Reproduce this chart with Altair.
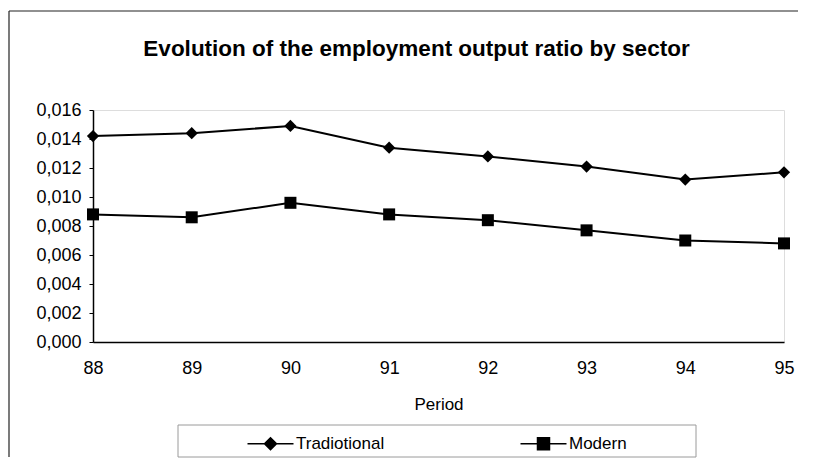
import altair as alt
import pandas as pd

# ---- data ----
periods = [88, 89, 90, 91, 92, 93, 94, 95]
traditional = [0.0142, 0.0144, 0.0149, 0.0134, 0.0128, 0.0121, 0.0112, 0.0117]
modern = [0.0088, 0.0086, 0.0096, 0.0088, 0.0084, 0.0077, 0.0070, 0.0068]
series_names = ["Tradiotional", "Modern"]
y_ticks = [0.000, 0.002, 0.004, 0.006, 0.008, 0.010, 0.012, 0.014, 0.016]
title_text = "Evolution of the employment output ratio by sector"
x_title = "Period"

rows = []
for name, vals in zip(series_names, [traditional, modern]):
    for p, v in zip(periods, vals):
        rows.append({"period": p, "value": v, "series": name})
df = pd.DataFrame(rows)

FONT = "Arial, Liberation Sans, sans-serif"
W, H = 691, 232

x_enc = alt.X(
    "period:Q",
    scale=alt.Scale(domain=[88, 95], nice=False, zero=False),
    axis=alt.Axis(
        values=periods, format="d", title=x_title, grid=False, ticks=False, tickSize=0,
        labelPadding=17, labelFontSize=18, labelFont=FONT, labelColor="black",
        labelFlush=False, titleFontSize=17, titleFont=FONT, titleFontWeight="normal",
        titleColor="black", titleY=67, titleBaseline="alphabetic",
        domainColor="black", domainWidth=1.5,
    ),
)
y_enc = alt.Y(
    "value:Q",
    scale=alt.Scale(domain=[0, 0.016], nice=False, zero=True),
    axis=alt.Axis(
        values=y_ticks, labelExpr="replace(format(datum.value, '.3f'), '.', ',')",
        grid=False, title=None, tickSize=4, tickColor="black", labelPadding=8,
        labelFontSize=18, labelFont=FONT, labelColor="black",
        domainColor="black", domainWidth=1.5,
    ),
)

base = alt.Chart(df)

lines = base.mark_line(color="black", strokeWidth=2).encode(
    x=x_enc, y=y_enc, detail="series:N"
)

points = base.mark_point(filled=True, opacity=1, color="black").encode(
    x=x_enc, y=y_enc,
    shape=alt.Shape("series:N", scale=alt.Scale(domain=series_names, range=["diamond", "square"]), legend=None),
    size=alt.Size("series:N", scale=alt.Scale(domain=series_names, range=[150, 144]), legend=None),
)

# legend glyphs: a short line through a (stroke-filled) marker
diamond_glyph = ("M-4.6,0H4.6"
                 "M-1.2,0L0,-1.2L1.2,0L0,1.2Z"
                 "M-0.9,0L0,-0.9L0.9,0L0,0.9Z"
                 "M-0.6,0L0,-0.6L0.6,0L0,0.6Z"
                 "M-0.3,0L0,-0.3L0.3,0L0,0.3Z")
square_glyph = ("M-4.6,0H4.6"
                "M-1.2,-1.2H1.2V1.2H-1.2Z"
                "M-0.9,-0.9H0.9V0.9H-0.9Z"
                "M-0.6,-0.6H0.6V0.6H-0.6Z"
                "M-0.3,-0.3H0.3V0.3H-0.3Z")

legend_props = dict(
    orient="none", legendX=169, legendY=325, direction="horizontal", title=None,
    labelFontSize=17, labelFont=FONT, labelColor="black", labelOffset=17,
    symbolSize=100, symbolFillColor="black", symbolStrokeColor="black",
    symbolStrokeWidth=1.5, symbolOpacity=1, columnPadding=132, padding=0,
)

legend_layer = base.transform_filter("false").mark_point(
    filled=False, opacity=1, strokeWidth=1.5
).encode(
    x=x_enc, y=y_enc,
    shape=alt.Shape(
        "series:N",
        scale=alt.Scale(domain=series_names, range=[diamond_glyph, square_glyph]),
        legend=alt.Legend(**legend_props),
    ),
    stroke=alt.Stroke(
        "series:N",
        scale=alt.Scale(domain=series_names, range=["black", "black"]),
        legend=alt.Legend(**legend_props),
    ),
)

one = alt.Data(values=[{"k": 1}])
legend_box = alt.Chart(one).mark_rect(fill="white", stroke="#9a9a9a", strokeWidth=1).encode(
    x=alt.value(85), x2=alt.value(603), y=alt.value(315), y2=alt.value(347)
)
frame_top = alt.Chart(one).mark_rule(color="#222222", strokeWidth=1.2).encode(
    x=alt.value(-84), x2=alt.value(705), y=alt.value(-99), y2=alt.value(-99)
)
frame_left = alt.Chart(one).mark_rule(color="#222222", strokeWidth=1.2).encode(
    x=alt.value(-84), x2=alt.value(-84), y=alt.value(-99), y2=alt.value(347)
)

chart = alt.layer(
    frame_top, frame_left, legend_box, lines, points, legend_layer
).resolve_scale(
    shape="independent", size="independent", stroke="independent"
).properties(
    width=W, height=H,
    padding={"left": 0, "top": 2, "right": 0, "bottom": 0},
    title=alt.TitleParams(
        title_text, fontSize=22.5, fontWeight="bold", font=FONT, color="black",
        anchor="middle", frame="group", dx=-22, offset=-68, baseline="alphabetic",
    ),
).configure_view(
    stroke="black", strokeWidth=1.2
).configure(background="white")

chart.save("out.html", embed_options={"renderer": "svg", "actions": False})
